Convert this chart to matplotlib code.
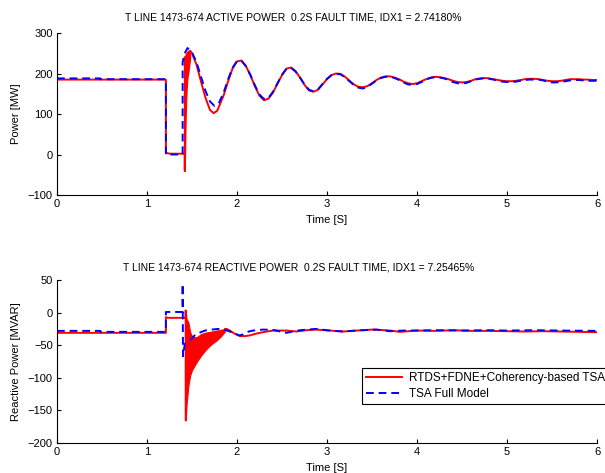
import matplotlib
matplotlib.use("Agg")
import matplotlib.pyplot as plt

plt.rcParams['font.family'] = ['Liberation Sans', 'DejaVu Sans']
plt.rcParams['font.size'] = 8

# ---------------- Active power data ----------------
# RTDS+FDNE+Coherency-based TSA (red)
p_red_t = [0.0, 1.21, 1.21, 1.23, 1.26, 1.42, 1.42, 1.42]
p_red_v = [185, 185, 5, 3, 2, 2, -40, 240]
p_ring_t = [1.42, 1.43, 1.44, 1.45, 1.46, 1.47, 1.48]
p_ring_low = [-40, 92, 158, 190, 203, 220, 240]
p_ring_high = [240, 248, 252, 255, 256, 256, 256]
p_red_post_t = [1.48, 1.50, 1.55, 1.60, 1.65, 1.70, 1.74, 1.78, 1.85, 1.90, 1.95,
                2.00, 2.05, 2.10, 2.15, 2.20, 2.25, 2.30, 2.35, 2.40, 2.45, 2.50,
                2.55, 2.60, 2.65, 2.70, 2.75, 2.80, 2.85, 2.90, 2.95, 3.00, 3.05,
                3.10, 3.15, 3.20, 3.25, 3.30, 3.35, 3.40, 3.45, 3.50, 3.55, 3.60,
                3.65, 3.70, 3.75, 3.80, 3.85, 3.90, 3.95, 4.00, 4.05, 4.10, 4.15,
                4.20, 4.25, 4.30, 4.35, 4.40, 4.45, 4.50, 4.55, 4.60, 4.65, 4.70,
                4.75, 4.80, 4.85, 4.90, 4.95, 5.00, 5.05, 5.10, 5.15, 5.20, 5.25,
                5.30, 5.35, 5.40, 5.45, 5.50, 5.55, 5.60, 5.65, 5.70, 5.75, 5.80,
                5.85, 5.90, 5.95, 6.00]
p_red_post_v = [256, 250, 222, 180, 140, 110, 102, 108, 145, 180, 212,
                230, 232, 218, 195, 168, 145, 134, 138, 153, 175, 196,
                212, 215, 206, 190, 172, 158, 155, 160, 173, 186, 196,
                200, 199, 192, 182, 173, 167, 166, 169, 176, 184, 190,
                193, 193, 190, 186, 180, 176, 174, 176, 181, 186, 190,
                192, 191, 189, 186, 182, 179, 178, 179, 182, 186, 188,
                189, 188, 186, 184, 182, 181, 181, 182, 184, 186, 187,
                187, 186, 184, 182, 181, 181, 182, 184, 186, 186, 186,
                185, 185, 184, 184]

# TSA Full Model (blue)
p_blue_t = [0.0, 0.48, 0.48, 1.21, 1.21, 1.396, 1.396, 1.42, 1.45, 1.50, 1.55,
            1.60, 1.65, 1.70, 1.75, 1.80, 1.85, 1.90, 1.95, 2.00, 2.05, 2.10,
            2.15, 2.20, 2.25, 2.30, 2.35, 2.40, 2.45, 2.50, 2.55, 2.60, 2.65,
            2.70, 2.75, 2.80, 2.85, 2.90, 2.95, 3.00, 3.05, 3.10, 3.15, 3.20,
            3.25, 3.30, 3.35, 3.40, 3.45, 3.50, 3.55, 3.60, 3.65, 3.70, 3.75,
            3.80, 3.85, 3.90, 3.95, 4.00, 4.05, 4.10, 4.15, 4.20, 4.25, 4.30,
            4.35, 4.40, 4.45, 4.50, 4.55, 4.60, 4.65, 4.70, 4.75, 4.80, 4.85,
            4.90, 4.95, 5.00, 5.05, 5.10, 5.15, 5.20, 5.25, 5.30, 5.35, 5.40,
            5.45, 5.50, 5.55, 5.60, 5.65, 5.70, 5.75, 5.80, 5.85, 5.90, 5.95,
            6.00]
p_blue_v = [188, 188, 186, 186, 0, 0, 228, 250, 263, 252, 228,
            192, 157, 131, 120, 128, 152, 185, 214, 231, 231, 218,
            196, 170, 148, 137, 140, 155, 176, 197, 212, 214, 205,
            190, 173, 160, 156, 161, 174, 187, 196, 199, 198, 191,
            181, 171, 165, 163, 167, 175, 183, 189, 192, 192, 189,
            184, 178, 173, 172, 174, 179, 185, 189, 191, 190, 188,
            184, 179, 176, 175, 177, 181, 185, 187, 188, 187, 185,
            182, 180, 179, 179, 180, 182, 184, 185, 185, 185, 183,
            180, 178, 178, 179, 181, 183, 184, 184, 183, 182, 182,
            182]

# ---------------- Reactive power data ----------------
q_red_t = [0.0, 1.21, 1.21, 1.23, 1.43, 1.43, 1.43]
q_red_v = [-31, -31, -7, -8, -8, 3, -165]
q_ring_t = [1.43, 1.44, 1.46, 1.48, 1.50, 1.53, 1.56, 1.60, 1.64, 1.68, 1.72,
            1.77, 1.80, 1.83, 1.87]
q_ring_low = [-165, -140, -112, -96, -88, -81, -74, -66, -59, -53, -48,
              -43, -39, -35, -28]
q_ring_high = [3, -10, -15, -30, -36, -38, -37, -33, -31, -30, -29,
               -27.5, -27, -26, -25]
q_red_post_t = [1.87, 1.885, 1.92, 1.97, 2.03, 2.09, 2.14, 2.22, 2.29, 2.40,
                2.55, 2.66, 2.77, 2.88, 3.03, 3.18, 3.33, 3.51, 3.70, 3.81,
                4.00, 4.20, 4.40, 4.60, 4.80, 5.00, 5.20, 5.40, 5.60, 5.80, 6.00]
q_red_post_v = [-25, -25, -27.5, -32, -36, -36, -35, -32, -30, -27.5,
                -27.5, -29, -27, -26, -27.5, -29, -27.5, -26, -27.5, -29.5,
                -27.5, -28, -27, -28, -28, -28.5, -29, -28.5, -29, -29.5, -30]

q_blue_t = [0.0, 0.48, 0.48, 1.21, 1.21, 1.396, 1.396, 1.40, 1.42, 1.45, 1.48,
            1.53, 1.58, 1.644, 1.72, 1.79, 1.85, 1.92, 1.97, 2.03, 2.08, 2.13,
            2.18, 2.29, 2.40, 2.48, 2.55, 2.62, 2.70, 2.88, 3.03, 3.18, 3.33,
            3.55, 3.70, 3.85, 4.00, 4.20, 4.50, 4.80, 5.00, 5.30, 5.60, 6.00]
q_blue_v = [-28, -28, -29.5, -29.5, 1, 1, 44, -67, -48, -45, -42,
            -35, -31, -27.5, -26, -25, -25.5, -29, -32, -35, -33, -29,
            -27.5, -26, -26.5, -29, -31, -29, -27, -25, -27.5, -29, -27.5,
            -26, -28.5, -27.5, -27.5, -27, -27.5, -27, -27.5, -27, -27.5, -28]

x_ticks = [0, 1, 2, 3, 4, 5, 6]
p_ticks = [-100, 0, 100, 200, 300]
q_ticks = [-200, -150, -100, -50, 0, 50]

title_p = "T LINE 1473-674 ACTIVE POWER  0.2S FAULT TIME, IDX1 = 2.74180%"
title_q = "T LINE 1473-674 REACTIVE POWER  0.2S FAULT TIME, IDX1 = 7.25465%"
legend_labels = ["RTDS+FDNE+Coherency-based TSA", "TSA Full Model"]

RED = (1, 0, 0)
BLUE = (0, 0, 1)
LW = 1.4
DASH = (0, (4, 2.5))

fig = plt.figure(figsize=(6.05, 4.73), dpi=100)
ax1 = fig.add_axes([0.0942, 0.5877, 0.8926, 0.3425])
ax2 = fig.add_axes([0.0942, 0.0634, 0.8926, 0.3446])


def style(ax, yticks, ylim):
    ax.set_xlim(0, 6)
    ax.set_ylim(*ylim)
    ax.set_xticks(x_ticks)
    ax.set_yticks(yticks)
    ax.spines['top'].set_visible(False)
    ax.spines['right'].set_visible(False)
    ax.tick_params(direction='in', length=3, width=0.8, pad=3, labelsize=8)
    ax.set_xlabel("Time [S]", labelpad=4, fontsize=8)


# Active power
ax1.plot(p_red_t, p_red_v, color=RED, lw=LW)
ax1.fill_between(p_ring_t, p_ring_low, p_ring_high, color=RED, lw=0.8)
ax1.plot(p_red_post_t, p_red_post_v, color=RED, lw=LW)
ax1.plot(p_blue_t, p_blue_v, color=BLUE, lw=LW, ls=DASH)
style(ax1, p_ticks, (-100, 300))
ax1.set_ylabel("Power [MW]", labelpad=5, fontsize=8)

# Reactive power
l1, = ax2.plot(q_red_t, q_red_v, color=RED, lw=LW)
ax2.fill_between(q_ring_t, q_ring_low, q_ring_high, color=RED, lw=0.8)
ax2.plot(q_red_post_t, q_red_post_v, color=RED, lw=LW)
l2, = ax2.plot(q_blue_t, q_blue_v, color=BLUE, lw=LW, ls=DASH)
style(ax2, q_ticks, (-200, 50))
ax2.set_ylabel("Reactive Power [MVAR]", labelpad=5, fontsize=8)

# Titles (positioned as in the reference, slightly left of the axes centre)
fig.text(0.484, 1 - 17 / 473, title_p, ha='center', va='center', fontsize=7.5)
fig.text(0.494, 1 - 267 / 473, title_q, ha='center', va='center', fontsize=7.5)

leg = ax2.legend([l1, l2], legend_labels, loc='upper left',
                 bbox_to_anchor=(0.565, 0.46), fontsize=8.5,
                 fancybox=False, framealpha=1, edgecolor='black',
                 handlelength=3.0, borderpad=0.35, labelspacing=0.3,
                 handletextpad=0.6, borderaxespad=0)
leg.get_frame().set_linewidth(0.8)

fig.savefig("out.png", dpi=100)
